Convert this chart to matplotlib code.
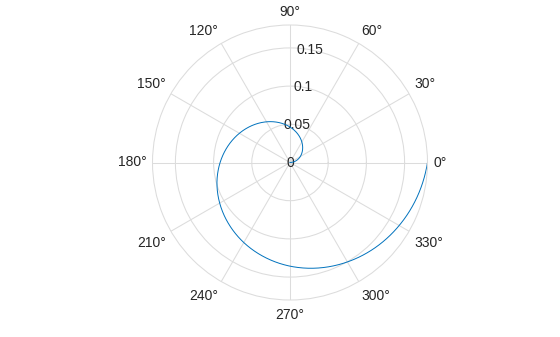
import numpy as np
import matplotlib.pyplot as plt

plt.rcParams['font.family'] = ['Liberation Sans', 'DejaVu Sans']

# spiral, every 15 degrees
theta_deg = [0, 15, 30, 45, 60, 75, 90, 105, 120, 135, 150, 165, 180,
             195, 210, 225, 240, 255, 270, 285, 300, 315, 330, 345, 360]
rho = [0.0, 0.0078, 0.0155, 0.0232, 0.031, 0.0388, 0.0465, 0.054, 0.0615,
       0.069, 0.0765, 0.084, 0.0915, 0.099, 0.1063, 0.1136, 0.121, 0.1283,
       0.1357, 0.143, 0.1503, 0.1577, 0.165, 0.1725, 0.180]

r_max = 0.18
r_ticks = [0, 0.05, 0.1, 0.15]
r_labels = ['0', '0.05', '0.1', '0.15']
theta_ticks = list(range(0, 360, 30))

grid_col = '#dcdcdc'
text_col = '#262626'

fig = plt.figure(figsize=(5.6, 3.37), dpi=100)
ax = fig.add_axes([152.5 / 560, 37 / 337, 275 / 560, 275 / 337], projection='polar')

line, = ax.plot(np.deg2rad(theta_deg), rho, color='#0072BD', linewidth=0.7)
# let the polar transform bend each segment instead of drawing chords
line.get_path()._interpolation_steps = 40

ax.set_rlim(0, r_max)
ax.set_rticks(r_ticks)
ax.set_yticklabels(r_labels)
ax.set_rlabel_position(80)
ax.set_thetagrids(theta_ticks, [''] * len(theta_ticks))

ax.grid(True, color=grid_col, linewidth=0.75)
ax.spines['polar'].set_color(grid_col)
ax.spines['polar'].set_linewidth(0.75)

ax.tick_params(axis='x', length=0)
ax.tick_params(axis='y', labelsize=10, labelcolor=text_col)
for lab in ax.get_yticklabels():
    lab.set_ha('center')
    lab.set_va('center')

# angle labels: edge aligned outside the circle, like matlab does
off = 4.3
for t in theta_ticks:
    c, s = np.cos(np.deg2rad(t)), np.sin(np.deg2rad(t))
    ha = 'left' if c > 0.1 else ('right' if c < -0.1 else 'center')
    va = 'bottom' if s > 0.1 else ('top' if s < -0.1 else 'center')
    dy = off * s - (1.6 if s < -0.1 else 0)
    ax.annotate(f'{t}\u00b0', xy=(np.deg2rad(t), r_max), xytext=(off * c, dy),
                textcoords='offset points', ha=ha, va=va, fontsize=10,
                color=text_col, annotation_clip=False)

plt.savefig('out.png', dpi=100)
